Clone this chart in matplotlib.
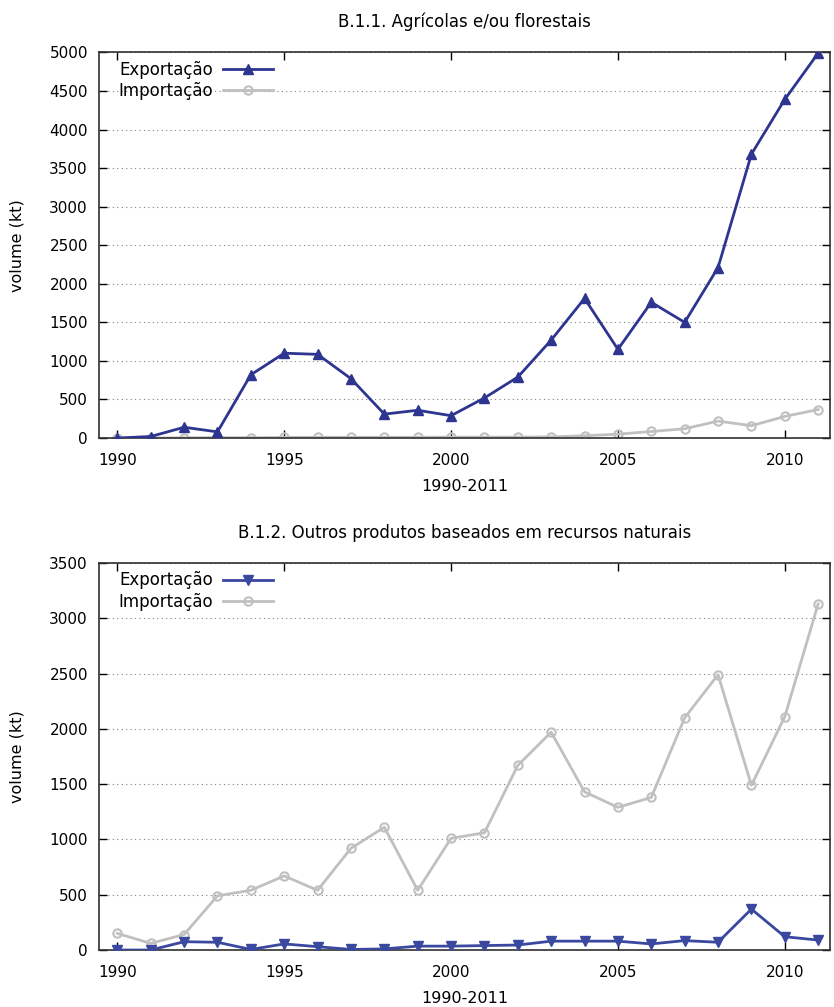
import numpy as np
import matplotlib.pyplot as plt

years = list(range(1990, 2012))

# B.1.1 agricolas e/ou florestais (kt)
agr_exp = [0, 20, 140, 80, 820, 1100, 1085, 770, 310, 360, 290, 520, 790,
           1270, 1810, 1150, 1760, 1500, 2210, 3680, 4390, 4990]
agr_imp = [0, 0, 3, 5, 5, 8, 10, 10, 10, 10, 12, 12, 12,
           15, 30, 50, 85, 120, 220, 160, 280, 370]

# B.1.2 outros produtos baseados em recursos naturais (kt)
out_exp = [0, 0, 75, 70, 5, 55, 30, 5, 10, 35, 35, 40, 45,
           80, 80, 80, 55, 85, 70, 370, 120, 90]
out_imp = [150, 60, 140, 490, 540, 670, 540, 920, 1110, 540, 1010, 1060, 1670,
           1970, 1430, 1290, 1380, 2100, 2490, 1490, 2110, 3130]

titles = ['B.1.1. Agrícolas e/ou florestais',
          'B.1.2. Outros produtos baseados em recursos naturais']

plt.rcParams['font.family'] = ['DejaVu Sans']
plt.rcParams['font.size'] = 11

fig = plt.figure(figsize=(8.34, 10.07), dpi=100)
ax1 = fig.add_axes([0.1187, 0.565, 0.8763, 0.383])
ax2 = fig.add_axes([0.1187, 0.0566, 0.8763, 0.3843])

grey = '#c0c0c0'

ax1.plot(years, agr_exp, color='#2d3590', lw=2, marker='^', ms=7, label='Exportação', zorder=3)
ax1.plot(years, agr_imp, color=grey, lw=2, marker='o', ms=6, mfc='none', mew=1.5,
         label='Importação', zorder=2)
ax1.set_ylim(0, 5000)
ax1.set_yticks(np.arange(0, 5001, 500))

ax2.plot(years, out_exp, color='#3a48a0', lw=2, marker='v', ms=7, label='Exportação', zorder=3)
ax2.plot(years, out_imp, color=grey, lw=2, marker='o', ms=6, mfc='none', mew=1.5,
         label='Importação', zorder=2)
ax2.set_ylim(0, 3500)
ax2.set_yticks(np.arange(0, 3501, 500))

for ax, t in zip([ax1, ax2], titles):
    ax.set_xlim(1989.45, 2011.35)
    ax.set_xticks([1990, 1995, 2000, 2005, 2010])
    ax.set_title(t, fontsize=12, pad=18)
    ax.set_xlabel('1990-2011', fontsize=11.5, labelpad=8)
    ax.set_ylabel('volume (kt)', fontsize=11.5, labelpad=18)
    ax.grid(axis='y', ls=(0, (1, 3)), color='#808080', lw=0.8)
    ax.tick_params(direction='in', top=True, right=True, length=6, width=1)
    ax.tick_params(axis='x', pad=11)
    ax.tick_params(axis='y', pad=8)
    ax.tick_params(axis='both', labelsize=11)
    for s in ax.spines.values():
        s.set_color('#303030')
        s.set_linewidth(1.2)
    ax.legend(loc='upper left', bbox_to_anchor=(0.015, 1.0), frameon=False,
              markerfirst=False, fontsize=12, handlelength=3.0, handletextpad=0.6,
              borderaxespad=0.3, borderpad=0.2, labelspacing=0.2)

fig.savefig('out.png', dpi=100)
